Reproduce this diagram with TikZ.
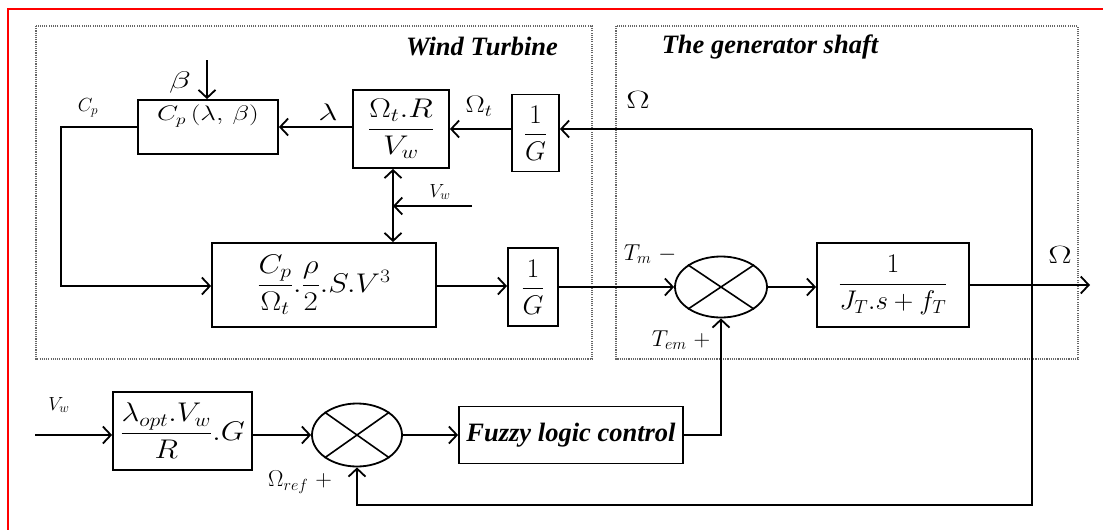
\documentclass[tikz,border=0pt]{standalone}
\usepackage{fix-cm}
\usepackage{amsmath}
\usepackage{graphicx}
\usepackage{fontspec}
\newfontfamily\titlefont{Liberation Serif}
\usetikzlibrary{arrows.meta,shapes.geometric}
\newcommand{\wx}[2]{\scalebox{#1}[1]{#2}}
\begin{document}
\begin{tikzpicture}[x=1pt,y=-1pt,
  blk/.style={draw, line width=1.8pt, inner sep=0pt, fill=white},
  conn/.style={line width=2.2pt, -{Straight Barb[length=8pt,width=17pt,line width=1.8pt]}},
  dconn/.style={line width=2.2pt, {Straight Barb[length=8pt,width=17pt,line width=1.8pt]}-{Straight Barb[length=8pt,width=17pt,line width=1.8pt]}},
  sumj/.style={draw, ellipse, line width=1.8pt, inner sep=0pt},
  mathbig/.style={font=\fontsize{27}{32}\selectfont, inner sep=0pt},
  mathlab/.style={font=\fontsize{24}{28}\selectfont, inner sep=0pt},
  mathmid/.style={font=\fontsize{23}{27}\selectfont, inner sep=0pt},
  mathsmall/.style={font=\fontsize{19}{22}\selectfont, inner sep=0pt},
  title/.style={font=\titlefont\bfseries\itshape\fontsize{26.5}{30}\selectfont, inner sep=0pt},
  region/.style={draw=black!60, line width=1.5pt, dash pattern=on 1.1pt off 1.1pt}
]
\useasboundingbox (0,0) rectangle (1103,530);
% red frame (top and left only)
\draw[red, line width=1.8pt] (8,530) -- (8,9) -- (1103,9);
% dotted regions
\draw[region] (36,26) rectangle (592,359);
\draw[region] (616,26) rectangle (1078,359);
\node[title] (tWT) at (482,47) {Wind Turbine};
\node[title] (tGS) at (770,47) {The generator shaft};

% blocks
\node[blk, minimum width=140pt, minimum height=54pt] (cp) at (208,127) {};
\node[font=\fontsize{21}{25}\selectfont, inner sep=0pt] (cpt) at (208,116) {\wx{1.3}{$C_{p}\,(\lambda,\,\beta)$}};
\node[blk, minimum width=96pt, minimum height=78pt, mathbig] (tsr) at (401,129) {\wx{1.2}{$\dfrac{\Omega_{t}.R}{V_{w}}$}};
\node[blk, minimum width=47pt, minimum height=77pt, mathbig] (g1) at (535.5,133) {$\dfrac{1}{G}$};
\node[blk, minimum width=224pt, minimum height=84pt, mathbig] (pw) at (324,285) {\wx{1.15}{$\dfrac{C_{p}}{\Omega_{t}}.\dfrac{\rho}{2}.S.V^{3}$}};
\node[blk, minimum width=50pt, minimum height=78pt, mathbig] (g2) at (533,287) {$\dfrac{1}{G}$};
\node[sumj, minimum width=92pt, minimum height=61pt] (s1) at (721,287) {};
\draw[line width=1.6pt] (s1.north west) -- (s1.south east) (s1.north east) -- (s1.south west);
\node[blk, minimum width=152pt, minimum height=84pt, mathbig] (jt) at (893,285) {$\dfrac{1}{J_{T}.s+f_{T}}$};
\node[blk, minimum width=139pt, minimum height=78pt, mathbig] (lam) at (182.5,431) {\wx{1.15}{$\dfrac{\lambda_{opt}.V_{w}}{R}.G$}};
\node[sumj, minimum width=90pt, minimum height=63pt] (s2) at (357,435) {};
\draw[line width=1.6pt] (s2.north west) -- (s2.south east) (s2.north east) -- (s2.south west);
\node[blk, minimum width=224pt, minimum height=57pt, title] (fz) at (571,435) {Fuzzy logic control};

% coordinates
\coordinate (c1) at (1032,129);
\coordinate (c2) at (1032,505);
\coordinate (c3) at (357,505);
\coordinate (cpl) at (61,286);
\coordinate (bt) at (207,60);
\coordinate (dx) at (393,0);
\coordinate (vw) at (472,206);
\coordinate (out) at (1090,285);
\coordinate (inp) at (35,435);

% connectors
\draw[conn] (c1) -- (g1.east |- c1);
\draw[conn] (g1.west |- c1) -- (tsr.east |- c1);
\draw[conn] (tsr.west |- cp.east) -- (cp.east);
\draw[conn] (cp.west) -| (cpl) -- (cpl -| pw.west);
\draw[conn] (bt) -- (bt |- cp.north);
\draw[dconn] (tsr.south -| dx) -- (pw.north -| dx);
\draw[conn] (vw) -- (vw -| dx);
\draw[conn] (pw.east |- cpl) -- (g2.west |- cpl);
\draw[conn] (g2.east |- s1.west) -- (s1.west);
\draw[conn] (s1.east) -- (jt.west |- s1.east);
\draw[conn] (jt.east) -- (out);
\draw[conn] (c1) -- (c2) -- (c3) -- (s2.south);
\draw[conn] (inp) -- (lam.west |- inp);
\draw[conn] (lam.east |- inp) -- (s2.west);
\draw[conn] (s2.east) -- (fz.west |- s2.east);
\draw[conn] (fz.east) -| (s1.south);

% labels
\node[mathlab, font=\fontsize{25}{30}\selectfont] (lOm) at (638,100) {\wx{1.4}{$\Omega$}};
\node[mathlab] (lOt) at (479,106) {\wx{1.2}{$\Omega_{t}$}};
\node[mathlab] (llam) at (328,112) {\wx{1.4}{$\lambda$}};
\node[mathlab] (lbeta) at (180,82) {\wx{1.5}{$\beta$}};
\node[mathsmall] (lcp) at (88,108) {$C_{p}$};
\node[mathsmall] (lvw1) at (440,192) {$V_{w}$};
\node[mathsmall] (lvw2) at (59,405) {$V_{w}$};
\node[mathmid] (ltm) at (650,254) {$T_{m}\ -$};
\node[mathmid] (ltem) at (681,340) {$T_{em}\ +$};
\node[mathlab, font=\fontsize{25}{30}\selectfont] (lOut) at (1060,255) {\wx{1.4}{$\Omega$}};
\node[mathmid] (lref) at (300,482) {$\Omega_{ref}\ +$};
\end{tikzpicture}
\end{document}
